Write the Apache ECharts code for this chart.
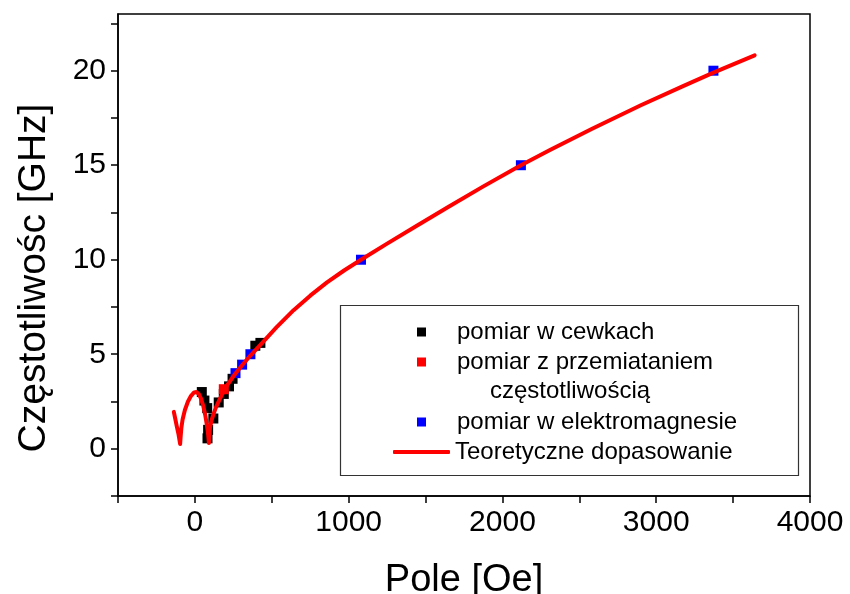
<!DOCTYPE html>
<html>
<head>
<meta charset="utf-8">
<script src="https://cdn.jsdelivr.net/npm/echarts@6/dist/echarts.min.js"></script>
<style>html,body{margin:0;padding:0;background:#fff}#c{width:850px;height:594px}</style>
</head>
<body>
<div id="c"></div>
<script>
// ---- data ----
var coilData = [[45,3.0],[62,2.55],[80,2.15],[86,1.0],[82,0.55],[120,1.6],[155,2.45],[188,2.9],[222,3.3],[245,3.7],[393,5.45],[426,5.6]];
var sweepData = [[188,3.15]];
var magnetData = [[264,4.0],[307,4.45],[361,5.0],[1080,10.0],[2120,15.0],[3372,20.0]];
var fitData = [[-137,1.95],[-128,1.6],[-118,1.2],[-106,0.75],[-96,0.25],[-93,0.6],[-88,1.1],[-80,1.55],[-65,2.05],[-45,2.5],[-25,2.8],[-5,2.98],[10,3.0],[25,2.9],[40,2.65],[55,2.25],[68,1.75],[78,1.25],[85,0.85],[91,0.3],[94,0.7],[98,1.1],[108,1.5],[120,1.8],[135,2.15],[160,2.6],[188,3.05],[215,3.42],[242,3.74],[264,3.98],[307,4.42],[361,4.93],[426,5.5],[530,6.42],[642,7.33],[750,8.1],[859,8.8],[970,9.43],[1080,10.0],[1250,10.85],[1443,11.8],[1650,12.8],[1876,13.88],[2120,15.0],[2309,15.81],[2580,16.92],[2900,18.17],[3171,19.17],[3372,19.9],[3640,20.81]];
var xTicks = [-500,0,500,1000,1500,2000,2500,3000,3500,4000];
var xLabels = [0,1000,2000,3000,4000];
var yTicks = [-2.5,0,2.5,5,7.5,10,12.5,15,17.5,20,22.5];
var yLabels = [0,5,10,15,20];
var names = ['pomiar w cewkach','pomiar z przemiataniem','pomiar w elektromagnesie','Teoretyczne dopasowanie'];
var secondLine = 'częstotliwością';

var FONT = '"Liberation Sans", Arial, sans-serif';
var legendText = {fontFamily:FONT,fontSize:24,color:'#000',lineHeight:30};
var chart = echarts.init(document.getElementById('c'), null, {renderer:'canvas'});
chart.setOption({
  animation:false,
  backgroundColor:'#fff',
  grid:{left:118,right:40,top:14,bottom:98,outerBoundsMode:'none',containLabel:false,show:true,borderColor:'#000',borderWidth:1.5,backgroundColor:'transparent'},
  xAxis:{type:'value',min:-500,max:4000,
    name:'Pole [Oe]',nameLocation:'middle',nameGap:66,
    nameTextStyle:{fontFamily:FONT,fontSize:38,color:'#000'},
    axisLine:{onZero:false,lineStyle:{color:'#000',width:1.5}},
    axisTick:{show:true,inside:false,length:7,lineStyle:{color:'#000',width:1.5},customValues:xTicks},
    axisLabel:{fontFamily:FONT,fontSize:30,color:'#000',margin:12,customValues:xLabels,formatter:function(v){return String(v);}},
    splitLine:{show:false}},
  yAxis:{type:'value',min:-2.5,max:23,
    name:'Częstotliwośc [GHz]',nameLocation:'middle',nameGap:64,nameRotate:90,
    nameTextStyle:{fontFamily:FONT,fontSize:39,color:'#000',padding:[0,46,0,0]},
    axisLine:{onZero:false,lineStyle:{color:'#000',width:1.5}},
    axisTick:{show:true,inside:false,length:7,lineStyle:{color:'#000',width:1.5},customValues:yTicks},
    axisLabel:{fontFamily:FONT,fontSize:30,color:'#000',margin:12,customValues:yLabels,formatter:function(v){return String(v);}},
    splitLine:{show:false}},
  legend:[
    {data:[{name:names[0],icon:'rect'},{name:names[1],icon:'rect'}],orient:'vertical',left:417,top:317,padding:0,itemGap:0,itemWidth:9,itemHeight:9,
     textStyle:Object.assign({padding:[0,0,0,26]},legendText),selectedMode:false},
    {data:[{name:names[2],icon:'rect'}],orient:'vertical',left:417,top:407,padding:0,itemGap:0,itemWidth:9,itemHeight:9,
     textStyle:Object.assign({padding:[0,0,0,26]},legendText),selectedMode:false},
    {data:[{name:names[3],icon:'roundRect'}],orient:'vertical',left:393,top:437,padding:0,itemGap:0,itemWidth:57,itemHeight:4,
     textStyle:legendText,selectedMode:false}
  ],
  graphic:[
    {type:'rect',left:338,top:303,shape:{width:458,height:170},style:{fill:'none',stroke:'#333',lineWidth:1.2},z:1},
    {type:'text',left:490,top:379,style:{text:secondLine,font:'24px '+FONT,fill:'#000'},z:10}
  ],
  series:[
    {name:names[0],type:'scatter',data:coilData,symbol:'rect',symbolSize:10,itemStyle:{color:'#000',opacity:1},z:2},
    {name:names[1],type:'scatter',data:sweepData,symbol:'rect',symbolSize:10,itemStyle:{color:'#ff0000',opacity:1},z:2},
    {name:names[2],type:'scatter',data:magnetData,symbol:'rect',symbolSize:10,itemStyle:{color:'#0000ff',opacity:1},z:2},
    {name:names[3],type:'line',data:fitData,symbol:'none',showSymbol:false,smooth:false,
     lineStyle:{color:'#ff0000',width:4,cap:'round',join:'round'},itemStyle:{color:'#ff0000'},z:3}
  ]
});
</script>
</body>
</html>
